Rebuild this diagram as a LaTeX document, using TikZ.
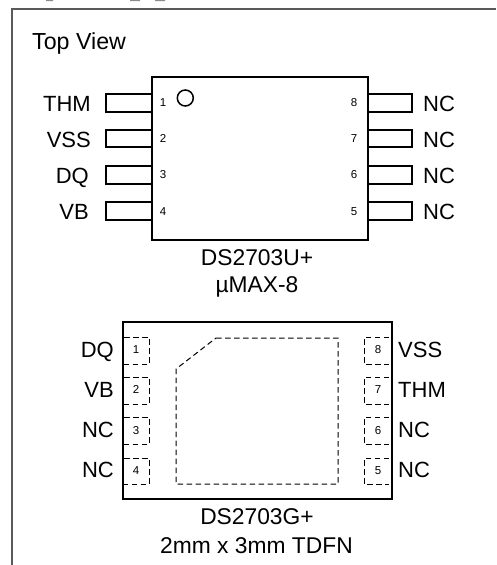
\documentclass[tikz,border=0pt]{standalone}
\usepackage{fontspec}
\setmainfont{Liberation Sans}
\definecolor{framegray}{HTML}{5A5A5A}
\tikzset{
  frameline/.style={draw=framegray,line width=1.8pt},
  body/.style={draw=black,line width=1.9pt},
  pin/.style={draw=black,line width=1.7pt},
  dashline/.style={draw=black,line width=1pt,dash pattern=on 5.5pt off 3.5pt},
  lab/.style={font=\fontsize{22}{26}\selectfont,inner sep=0pt,text=black},
  titletxt/.style={font=\fontsize{23.2}{26}\selectfont,inner sep=0pt,text=black},
  num/.style={font=\fontsize{11.5}{14}\selectfont,inner sep=0pt,anchor=base,text=black},
  captxt/.style={font=\fontsize{22.8}{26}\selectfont,inner sep=0pt,anchor=base,text=black},
}
\begin{document}
\begin{tikzpicture}[x=1pt,y=-1pt]
\useasboundingbox (0,0) rectangle (496,565);
\fill[white] (0,0) rectangle (496,565);
% clipped remnants along the top edge
\fill[framegray!70] (46,0) rectangle (53,1) (130,0) rectangle (140,1) (155,0) rectangle (165,1);
% frame
\draw[frameline] (12,565) -- (12,9) -- (496,9);
\node[titletxt,anchor=base west] (title) at (32,49) {Top View};
% upper package
\foreach \ya/\yb in {94/112,130/147,166/184,202/220}{
  \draw[pin] (151,\ya) -- (106,\ya) -- (106,\yb) -- (151,\yb);
  \draw[pin] (367,\ya) -- (412,\ya) -- (412,\yb) -- (367,\yb);
}
\node[body,draw,minimum width=216pt,minimum height=163pt,inner sep=0pt,anchor=north west] (ic1) at (151,76) {};
\node[draw=black,line width=1.5pt,circle,minimum size=16pt,inner sep=0pt] (dot) at (185.3,98) {};
\foreach \t/\x/\y in {THM/91/111,VSS/91/147,DQ/89/183,VB/89/219}
  \node[lab,anchor=base east] at (\x,\y) {\t};
\foreach \y in {111,147,183,219}
  \node[lab,anchor=base west] at (423,\y) {NC};
\foreach \t/\y in {1/106,2/142,3/178,4/215}
  \node[num] at (163,\y) {\t};
\foreach \t/\y in {8/106,7/142,6/178,5/215}
  \node[num] at (354,\y) {\t};
\node[captxt] (c1) at (257,265) {DS2703U+};
\node[captxt] (c2) at (257,292) {µMAX-8};
% lower package
\node[body,draw,minimum width=269pt,minimum height=177pt,inner sep=0pt,anchor=north west] (ic2) at (122,321) {};
\foreach \ya/\yb in {337/364,377/404,417/444,458/484}{
  \draw[dashline] (124,\ya) -- (149,\ya) -- (149,\yb) -- (124,\yb);
  \draw[dashline] (389,\ya) -- (364,\ya) -- (364,\yb) -- (389,\yb);
}
\draw[dashline] (216,338) -- (338,338) -- (338,484) -- (176,484) -- (176,369) -- cycle;
\foreach \t/\y in {1/353,2/393,3/434,4/474}
  \node[num] at (136,\y) {\t};
\foreach \t/\y in {8/353,7/393,6/434,5/474}
  \node[num] at (378,\y) {\t};
\foreach \t/\y in {DQ/357,VB/397,NC/437,NC/477}
  \node[lab,anchor=base east] at (114,\y) {\t};
\foreach \t/\y in {VSS/357,THM/397,NC/437,NC/477}
  \node[lab,anchor=base west] at (398,\y) {\t};
\node[captxt] (c3) at (257,524) {DS2703G+};
\node[captxt] (c4) at (256.5,553) {2mm x 3mm TDFN};
\end{tikzpicture}
\end{document}
